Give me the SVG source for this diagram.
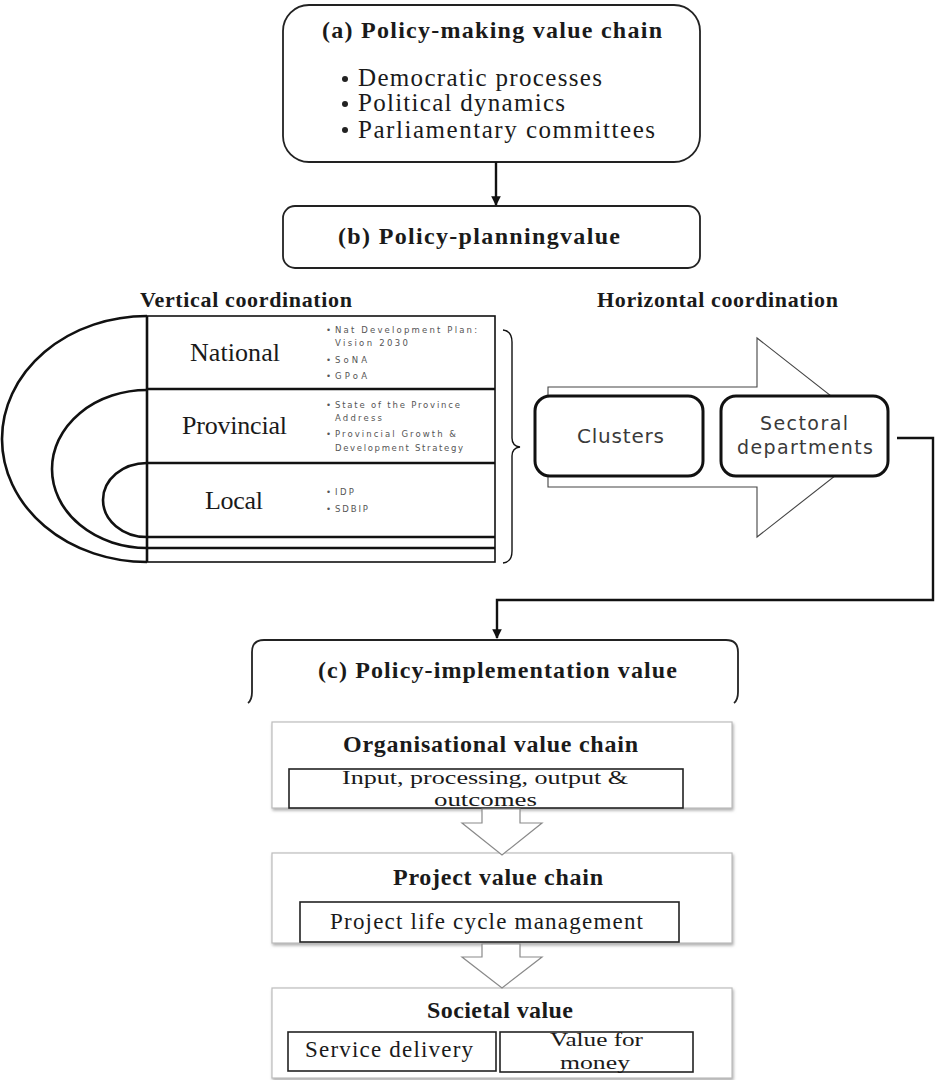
<svg xmlns="http://www.w3.org/2000/svg" width="937" height="1080" viewBox="0 0 937 1080">
  <defs>
    <style>
      .serif { font-family: "Liberation Serif", "Times New Roman", serif; fill: #1a1a1a; }
      .bold { font-weight: bold; }
      .sans { font-family: "DejaVu Sans", Verdana, sans-serif; fill: #3a3a3a; }
      .tiny { font-family: "DejaVu Sans", Verdana, sans-serif; font-size: 8.5px; fill: #555; }
      .box { fill: #fff; stroke: #222; stroke-width: 1.8; }
      .thick { fill: none; stroke: #111; stroke-width: 2.6; }
      .thin { fill: none; stroke: #111; stroke-width: 1.4; }
      .grey { fill: #fff; stroke: #bdbdbd; stroke-width: 1.2; }
      .inner { fill: #fff; stroke: #222; stroke-width: 1.6; }
      .block { fill: #fff; stroke: #8a8a8a; stroke-width: 1.2; }
      .conn { fill: none; stroke: #111; stroke-width: 2.4; }
    </style>
    <marker id="head" viewBox="0 0 10 10" refX="9" refY="5" markerWidth="4" markerHeight="4" orient="auto">
      <path d="M0,0 L10,5 L0,10 z" fill="#111"/>
    </marker>
    <filter id="shadow" x="-5%" y="-10%" width="110%" height="130%">
      <feDropShadow dx="1" dy="2" stdDeviation="1.5" flood-color="#999" flood-opacity="0.8"/>
    </filter>
  </defs>

  <rect width="937" height="1080" fill="#fff"/>

  <!-- (a) policy-making value chain -->
  <g id="policy-making">
    <rect class="box" x="283" y="5" width="417" height="157" rx="26" ry="26"/>
    <text class="serif bold" x="322" y="38" font-size="24" textLength="340" lengthAdjust="spacing">(a) Policy-making value chain</text>
    <circle cx="345" cy="79" r="3" fill="#222"/>
    <circle cx="345" cy="104" r="3" fill="#222"/>
    <circle cx="345" cy="130" r="3" fill="#222"/>
    <text class="serif" x="358" y="86" font-size="25" textLength="244" lengthAdjust="spacing">Democratic processes</text>
    <text class="serif" x="358" y="111" font-size="25" textLength="207" lengthAdjust="spacing">Political dynamics</text>
    <text class="serif" x="358" y="138" font-size="25" textLength="297" lengthAdjust="spacing">Parliamentary committees</text>
  </g>

  <!-- (b) policy-planning value -->
  <g id="policy-planning">
    <rect class="box" x="283" y="206" width="417" height="62" rx="12" ry="12"/>
    <text class="serif bold" x="338" y="244" font-size="24" textLength="282" lengthAdjust="spacing">(b) Policy-planningvalue</text>
  </g>

  <!-- vertical coordination: nested spheres of government -->
  <g id="vertical-coordination">
    <text class="serif bold" x="140" y="307" font-size="22" textLength="212" lengthAdjust="spacing">Vertical coordination</text>
    <rect x="147" y="316" width="348" height="246" fill="#fff" stroke="#111" stroke-width="1.6"/>
    <line class="thick" x1="147" y1="389" x2="495" y2="389"/>
    <line class="thick" x1="147" y1="463" x2="495" y2="463"/>
    <line class="thick" x1="147" y1="537" x2="495" y2="537"/>
    <line class="thick" x1="147" y1="548" x2="495" y2="548"/>
    <line class="thick" x1="147" y1="316" x2="147" y2="562"/>
    <path class="thick" d="M147,316 A145,123 0 0 0 147,562"/>
    <path class="thick" d="M147,390 A95,79 0 0 0 147,548"/>
    <path class="thick" d="M147,463 A44,37 0 0 0 147,537"/>

    <text class="serif" x="190" y="361" font-size="26" textLength="90" lengthAdjust="spacing">National</text>
    <text class="serif" x="182" y="434" font-size="26" textLength="105" lengthAdjust="spacing">Provincial</text>
    <text class="serif" x="205" y="509" font-size="26" textLength="58" lengthAdjust="spacing">Local</text>

    <g class="tiny">
      <text x="326" y="333">•</text>
      <text x="335" y="333" textLength="142" lengthAdjust="spacing">Nat Development Plan:</text>
      <text x="335" y="346" textLength="73" lengthAdjust="spacing">Vision 2030</text>
      <text x="326" y="363">•</text>
      <text x="335" y="363" textLength="32" lengthAdjust="spacing">SoNA</text>
      <text x="326" y="379">•</text>
      <text x="335" y="379" textLength="32" lengthAdjust="spacing">GPoA</text>

      <text x="326" y="408">•</text>
      <text x="335" y="408" textLength="125" lengthAdjust="spacing">State of the Province</text>
      <text x="335" y="421" textLength="47" lengthAdjust="spacing">Address</text>
      <text x="326" y="437">•</text>
      <text x="335" y="437" textLength="121" lengthAdjust="spacing">Provincial Growth &amp;</text>
      <text x="335" y="451" textLength="128" lengthAdjust="spacing">Development Strategy</text>

      <text x="326" y="495">•</text>
      <text x="335" y="495" textLength="19" lengthAdjust="spacing">IDP</text>
      <text x="326" y="512">•</text>
      <text x="335" y="512" textLength="33" lengthAdjust="spacing">SDBIP</text>
    </g>

    <!-- brace gathering the three spheres -->
    <path class="thin" d="M503,330 Q512,331 512,342 V438 Q512,446 520,447 Q512,448 512,456 V551 Q512,562 503,563"/>
  </g>

  <!-- horizontal coordination -->
  <g id="horizontal-coordination">
    <text class="serif bold" x="597" y="307" font-size="22" textLength="241" lengthAdjust="spacing">Horizontal coordination</text>
    <path d="M548,387 H757 V338 L884,437.5 L757,537 V487 H548 Z" fill="#fff" stroke="#444" stroke-width="1.1"/>
  </g>

  <g id="clusters">
    <rect x="535" y="396" width="168" height="80" rx="15" ry="15" fill="#fff" stroke="#111" stroke-width="3"/>
    <text class="sans" x="577" y="443" font-size="20" textLength="87" lengthAdjust="spacing">Clusters</text>
  </g>

  <g id="sectoral-departments">
    <rect x="721" y="396" width="167" height="80" rx="15" ry="15" fill="#fff" stroke="#111" stroke-width="3"/>
    <text class="sans" x="760" y="430" font-size="19" textLength="88" lengthAdjust="spacing">Sectoral</text>
    <text class="sans" x="737" y="454" font-size="19" textLength="136" lengthAdjust="spacing">departments</text>
  </g>

  <!-- (c) policy-implementation value -->
  <g id="policy-implementation">
    <path d="M248,703 Q252,700 252,692 V652 Q252,640 264,640 H726 Q738,640 738,652 V692 Q738,700 734,703" fill="none" stroke="#222" stroke-width="1.8"/>
    <text class="serif bold" x="318" y="678" font-size="24" textLength="359" lengthAdjust="spacing">(c) Policy-implementation value</text>
  </g>

  <g id="organisational-value-chain">
    <rect class="grey" x="272" y="722" width="460" height="86" filter="url(#shadow)"/>
    <text class="serif bold" x="343" y="752" font-size="24" textLength="295" lengthAdjust="spacing">Organisational value chain</text>
    <rect class="inner" x="289" y="769" width="394" height="39"/>
    <text class="serif" x="342" y="784" font-size="19" textLength="286" lengthAdjust="spacingAndGlyphs">Input, processing, output &amp;</text>
    <text class="serif" x="434" y="806" font-size="19" textLength="103" lengthAdjust="spacingAndGlyphs">outcomes</text>
  </g>

  <g id="project-value-chain">
    <rect class="grey" x="272" y="853" width="460" height="90" filter="url(#shadow)"/>
    <text class="serif bold" x="393" y="885" font-size="24" textLength="210" lengthAdjust="spacing">Project value chain</text>
    <rect class="inner" x="300" y="902" width="379" height="40"/>
    <text class="serif" x="330" y="929" font-size="23" textLength="313" lengthAdjust="spacing">Project life cycle management</text>
  </g>

  <g id="societal-value">
    <rect class="grey" x="272" y="988" width="460" height="90" filter="url(#shadow)"/>
    <text class="serif bold" x="427" y="1018" font-size="24" textLength="146" lengthAdjust="spacing">Societal value</text>
    <rect class="inner" x="288" y="1032" width="208" height="39"/>
    <text class="serif" x="305" y="1057" font-size="23" textLength="168" lengthAdjust="spacing">Service delivery</text>
    <rect class="inner" x="500" y="1032" width="193" height="40"/>
    <text class="serif" x="550" y="1046" font-size="19" textLength="93" lengthAdjust="spacingAndGlyphs">Value for</text>
    <text class="serif" x="560" y="1069" font-size="19" textLength="70" lengthAdjust="spacingAndGlyphs">money</text>
  </g>

  <!-- connectors -->
  <g id="connectors">
    <line class="conn" x1="496" y1="162" x2="496" y2="205" marker-end="url(#head)"/>
    <path class="conn" d="M897,438 H933 V600 H497 V638" marker-end="url(#head)"/>
    <path class="block" d="M482,809 H520 V823 H542 L502,855 L462,823 H482 Z"/>
    <path class="block" d="M482,944 H520 V957 H542 L502,988 L462,957 H482 Z"/>
  </g>
</svg>
